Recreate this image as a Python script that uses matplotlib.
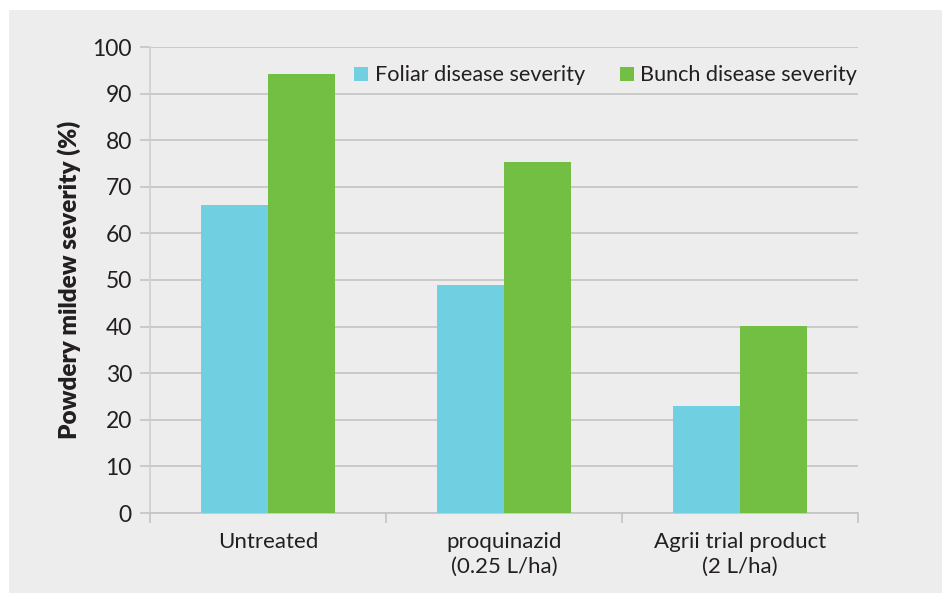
import numpy as np
import matplotlib.pyplot as plt
from matplotlib.patches import Rectangle

categories = ["Untreated", "proquinazid\n(0.25 L/ha)", "Agrii trial product\n(2 L/ha)"]
foliar = [66, 49, 23]
bunch = [94.2, 75.3, 40.1]
series_names = ["Foliar disease severity", "Bunch disease severity"]


def main():
    plt.rcParams['font.family'] = ['Lato', 'DejaVu Sans']
    bg = '#ededed'
    fig = plt.figure(figsize=(9.42, 5.93), dpi=100)
    fig.patch.set_facecolor('white')
    fig.patches.append(Rectangle((9 / 942, 0), 1, 1 - 10 / 593, transform=fig.transFigure,
                                 facecolor=bg, edgecolor='none', zorder=-10))

    ax = fig.add_axes([150 / 942, 1 - 513 / 593, 708 / 942, 466 / 593])
    ax.set_facecolor(bg)

    x = np.arange(len(categories))
    w = 0.286
    ax.bar(x - w / 2, foliar, w, color='#70cfe0', label=series_names[0], zorder=3)
    ax.bar(x + w / 2, bunch, w, color='#72bf44', label=series_names[1], zorder=3)

    ax.set_xlim(-0.5, 2.5)
    ax.set_ylim(0, 100)
    ax.set_yticks(np.arange(0, 101, 10))
    ax.yaxis.grid(True, color='#c4c4c4', linewidth=1.2, zorder=0)
    ax.tick_params(axis='y', length=7, color='#c4c4c4', width=1.2, labelsize=16.5,
                   labelcolor='#231f20', pad=6)

    ax.set_xticks(x)
    ax.set_xticklabels(categories, fontsize=16, color='#231f20', linespacing=1.3)
    ax.tick_params(axis='x', length=0, pad=14)
    ax.set_xticks([-0.5, 0.5, 1.5, 2.5], minor=True)
    ax.tick_params(axis='x', which='minor', length=7, color='#c4c4c4', width=1.2)

    for s in ['top', 'right']:
        ax.spines[s].set_visible(False)
    ax.spines['left'].set_color('#d0d0d0')
    ax.spines['left'].set_linewidth(1.2)
    ax.spines['bottom'].set_color('#c4c4c4')
    ax.spines['bottom'].set_linewidth(1.2)

    ax.set_ylabel("Powdery mildew severity (%)", fontsize=17.5, fontweight='heavy',
                  color='#231f20', labelpad=8)

    ax.legend(loc='upper right', bbox_to_anchor=(1.011, 0.979), borderaxespad=0, ncol=2,
              frameon=False, fontsize=15.6, handlelength=0.65, handleheight=0.65,
              handletextpad=0.3, columnspacing=1.6, labelcolor='#231f20')

    plt.savefig('out.png', format='png', facecolor=fig.get_facecolor())


if __name__ == "__main__":
    main()
